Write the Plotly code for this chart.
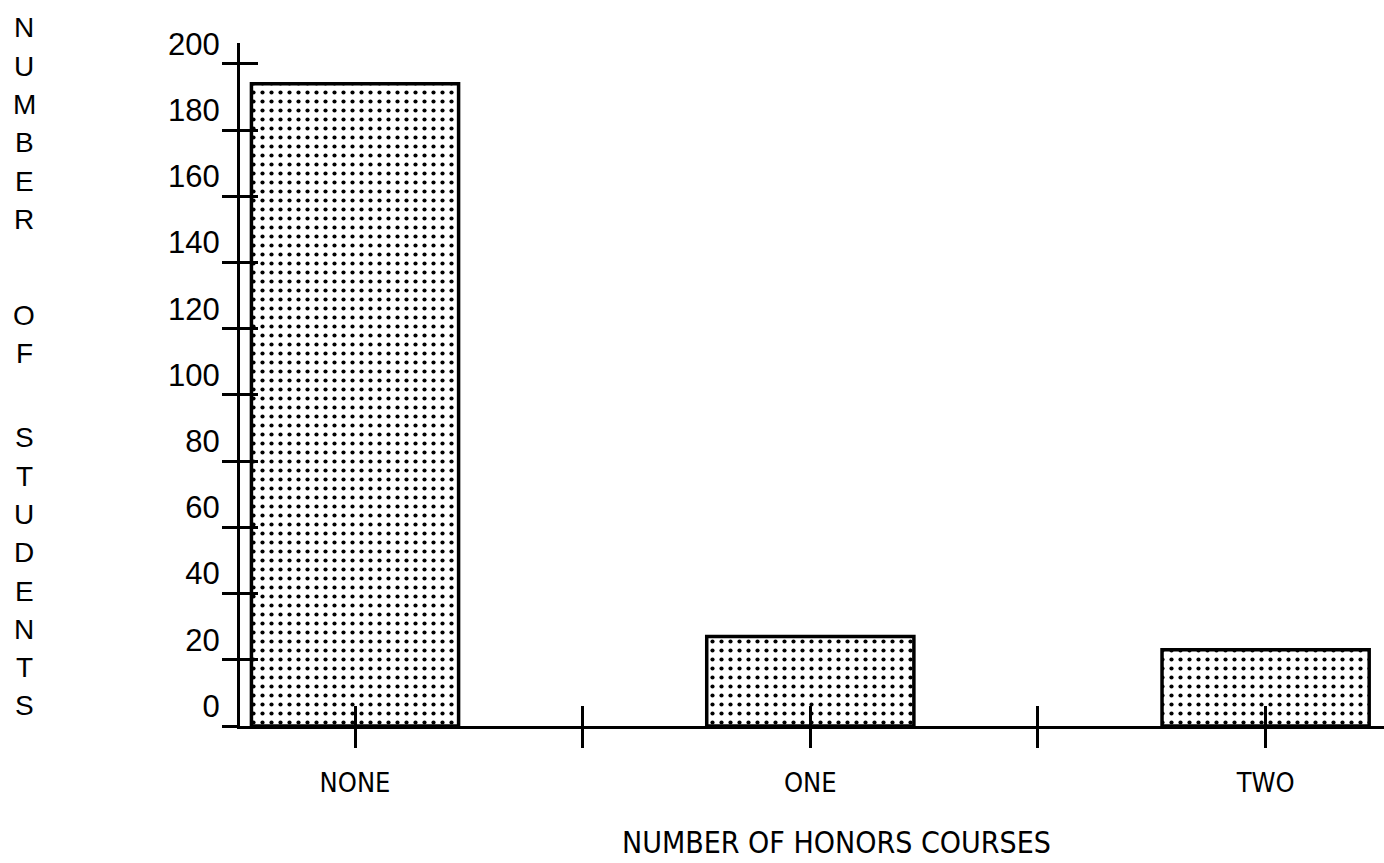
import plotly.graph_objects as go

# ---- data ----
categories = ["NONE", "ONE", "TWO"]
students = [194, 27, 23]
y_tick_values = [0, 20, 40, 60, 80, 100, 120, 140, 160, 180, 200]
y_title_letters = ["N", "U", "M", "B", "E", "R", "O", "F",
                   "S", "T", "U", "D", "E", "N", "T", "S"]
x_title = "NUMBER OF HONORS COURSES"

# ---- layout constants ----
W, H = 1384, 863
ML, MR, MT, MB = 240, 0, 43, 137
PW, PH = W - ML - MR, H - MT - MB
X_RANGE = [-0.2526, -0.2526 + PW / 455.3]
Y_RANGE = [0, 206.3]

sans = "Liberation Sans, Arial, Helvetica, sans-serif"
narrow = "Liberation Sans Narrow, Arial Narrow, DejaVu Sans Condensed, sans-serif"

xpos = list(range(len(categories)))
sep_ticks = []
tick_text = []
for i, c in enumerate(categories):
    sep_ticks.append(i)
    tick_text.append(c)
    if i < len(categories) - 1:
        sep_ticks.append(i + 0.5)
        tick_text.append("")

fig = go.Figure()
fig.add_trace(go.Bar(
    x=xpos, y=students, width=0.455,
    marker=dict(color="white",
                pattern=dict(shape=".", fgcolor="black", bgcolor="white",
                             size=9, solidity=0.17),
                line=dict(color="black", width=3.5)),
    showlegend=False, hoverinfo="skip",
))
# invisible helper trace for the overlay axes (crossing ticks)
fig.add_trace(go.Scatter(x=[0], y=[0], xaxis="x2", yaxis="y2", mode="markers",
                         marker=dict(opacity=0), showlegend=False, hoverinfo="skip"))

axis_common = dict(showgrid=False, zeroline=False, automargin=False)

fig.update_layout(
    template="none",
    width=W, height=H,
    margin=dict(l=ML, r=MR, t=MT, b=MB, autoexpand=False),
    paper_bgcolor="white", plot_bgcolor="white",
    xaxis=dict(range=X_RANGE, tickmode="array", tickvals=sep_ticks, ticktext=tick_text,
               ticks="outside", ticklen=19, tickwidth=3, tickcolor="black",
               showline=True, linewidth=3, linecolor="black",
               tickfont=dict(family=narrow, size=27, color="black"),
               ticklabelstandoff=12, **axis_common),
    yaxis=dict(range=Y_RANGE, tickmode="array", tickvals=y_tick_values,
               ticks="outside", ticklen=15, tickwidth=3, tickcolor="black",
               showline=True, linewidth=3, linecolor="black",
               tickfont=dict(family=sans, size=31, color="black"),
               ticklabelshift=-20, ticklabelstandoff=-4, **axis_common),
    xaxis2=dict(range=X_RANGE, overlaying="x", anchor="y", tickmode="array",
                tickvals=sep_ticks, ticks="inside", ticklen=20, tickwidth=3,
                tickcolor="black", showticklabels=False, showline=False, **axis_common),
    yaxis2=dict(range=Y_RANGE, overlaying="y", anchor="x", side="left", tickmode="array",
                tickvals=y_tick_values, ticks="inside", ticklen=18, tickwidth=3,
                tickcolor="black", showticklabels=False, showline=False, **axis_common),
)

# x-axis title
fig.add_annotation(text=x_title, xref="paper", yref="paper",
                   x=(836.5 - ML) / PW, y=(MT + PH - 842) / PH,
                   xanchor="center", yanchor="middle", showarrow=False,
                   font=dict(family=narrow, size=30, color="black"))

# stacked vertical y-axis title
line_index = [0, 1, 2, 3, 4, 5, 7.5, 8.5, 10.7, 11.7, 12.7, 13.7, 14.7, 15.7, 16.7, 17.7]
for letter, li in zip(y_title_letters, line_index):
    ypix = 28 + li * 38.3
    fig.add_annotation(text=letter, xref="paper", yref="paper",
                       x=(24 - ML) / PW, y=(MT + PH - ypix) / PH,
                       xanchor="center", yanchor="middle", showarrow=False,
                       font=dict(family=sans, size=28, color="black"))

fig.write_html("out.html", config={"displayModeBar": False},
               post_script="document.body.style.margin='0';document.body.style.overflow='hidden';")
